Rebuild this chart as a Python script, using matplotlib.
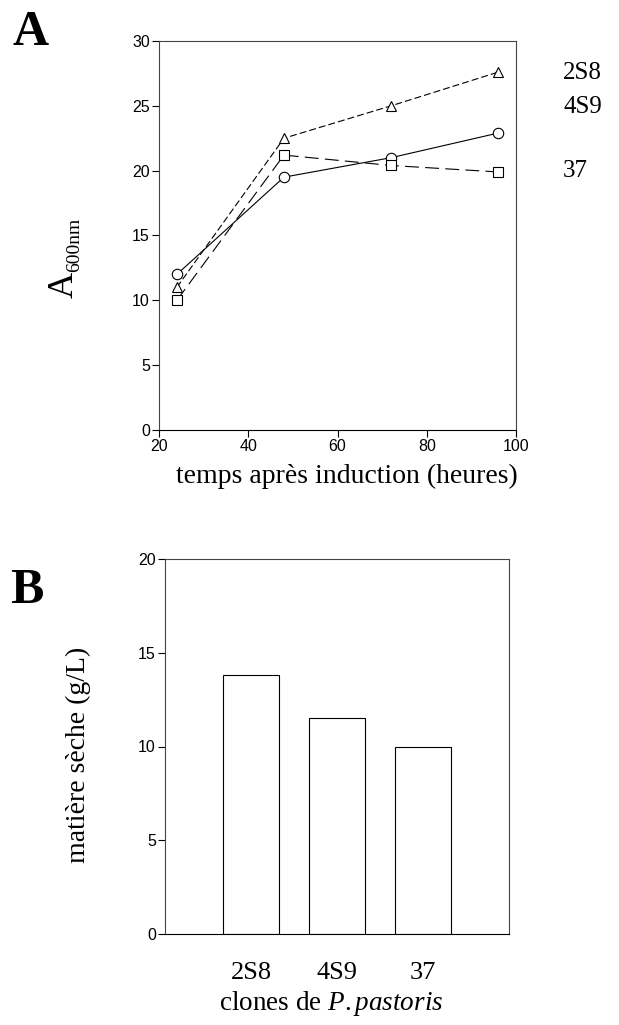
import matplotlib
matplotlib.use('Agg')
import matplotlib.pyplot as plt

plt.rcParams['lines.scale_dashes'] = False
plt.rcParams['mathtext.fontset'] = 'custom'
plt.rcParams['mathtext.rm'] = 'Liberation Serif'
plt.rcParams['mathtext.it'] = 'Liberation Serif:italic'

# donnees panneau A
heures = [24, 48, 72, 96]
a_2s8 = [11.0, 22.5, 25.0, 27.6]
a_4s9 = [12.0, 19.5, 21.0, 22.9]
a_37 = [10.0, 21.2, 20.4, 19.9]

# donnees panneau B
clones = ['2S8', '4S9', '37']
matiere_seche = [13.8, 11.5, 10.0]

serif = 'Liberation Serif'
sans = 'Liberation Sans'
W, H = 619, 1025

fig = plt.figure(figsize=(6.19, 10.25), dpi=100)

def fx(px):
    return px / W

def fy(py):
    return 1 - py / H

# A
ax1 = fig.add_axes([fx(159), fy(430), 357 / W, 389 / H])
mk = dict(markerfacecolor='white', markeredgecolor='black', markeredgewidth=0.8, color='black', linewidth=0.8)
ax1.plot(heures, a_4s9, '-', marker='o', markersize=7.5, **mk)
ax1.plot(heures, a_37, marker='s', markersize=6.5, dashes=(10, 4.5), **mk)
ax1.plot(heures, a_2s8, marker='^', markersize=7.5, dashes=(5, 2.2), **mk)
ax1.set_xlim(20, 100)
ax1.set_ylim(0, 30)
ax1.set_xticks([20, 40, 60, 80, 100])
ax1.set_yticks([0, 5, 10, 15, 20, 25, 30])
ax1.tick_params(direction='out', length=5, width=0.8, labelsize=11.5, pad=1.5)
for lab in ax1.get_xticklabels() + ax1.get_yticklabels():
    lab.set_family(sans)
for s in ax1.spines.values():
    s.set_linewidth(0.8)
    s.set_color('#444444')
ax1.spines['bottom'].set_color('black')

fig.text(fx(347), fy(476), 'temps après induction (heures)', family=serif, fontsize=20, ha='center', va='center')
fig.text(fx(64), fy(285), 'A', family=serif, fontsize=26, rotation=90, ha='center', va='center')
fig.text(fx(75), fy(245), '600nm', family=serif, fontsize=14, rotation=90, ha='center', va='center')

fig.text(fx(31), fy(33), 'A', family=serif, fontsize=36, fontweight='bold', ha='center', va='center')
fig.text(fx(563), fy(73), '2S8', family=serif, fontsize=18, ha='left', va='center')
fig.text(fx(563), fy(107), '4S9', family=serif, fontsize=18, ha='left', va='center')
fig.text(fx(563), fy(171), '37', family=serif, fontsize=18, ha='left', va='center')

# B
ax2 = fig.add_axes([fx(165), fy(934), 344 / W, 375 / H])
ax2.bar(range(len(clones)), matiere_seche, width=0.66, color='white', edgecolor='black', linewidth=0.8)
ax2.set_xlim(-1, 3)
ax2.set_ylim(0, 20)
ax2.set_yticks([0, 5, 10, 15, 20])
ax2.set_xticks(range(len(clones)))
ax2.set_xticklabels(clones, family=serif, fontsize=19)
ax2.tick_params(axis='x', length=0, pad=20)
ax2.tick_params(axis='y', direction='out', length=5, width=0.8, labelsize=11.5, pad=1.5)
for lab in ax2.get_yticklabels():
    lab.set_family(sans)
for s in ax2.spines.values():
    s.set_linewidth(0.8)
    s.set_color('#444444')
ax2.spines['bottom'].set_color('black')

fig.text(fx(331), fy(1003), r'clones de $\mathit{P.pastoris}$', family=serif, fontsize=19.5, ha='center', va='center')
fig.text(fx(78), fy(755), 'matière sèche (g/L)', family=serif, fontsize=20, rotation=90, ha='center', va='center')

fig.text(fx(27), fy(591), 'B', family=serif, fontsize=36, fontweight='bold', ha='center', va='center')

fig.savefig('out.png', dpi=100)
